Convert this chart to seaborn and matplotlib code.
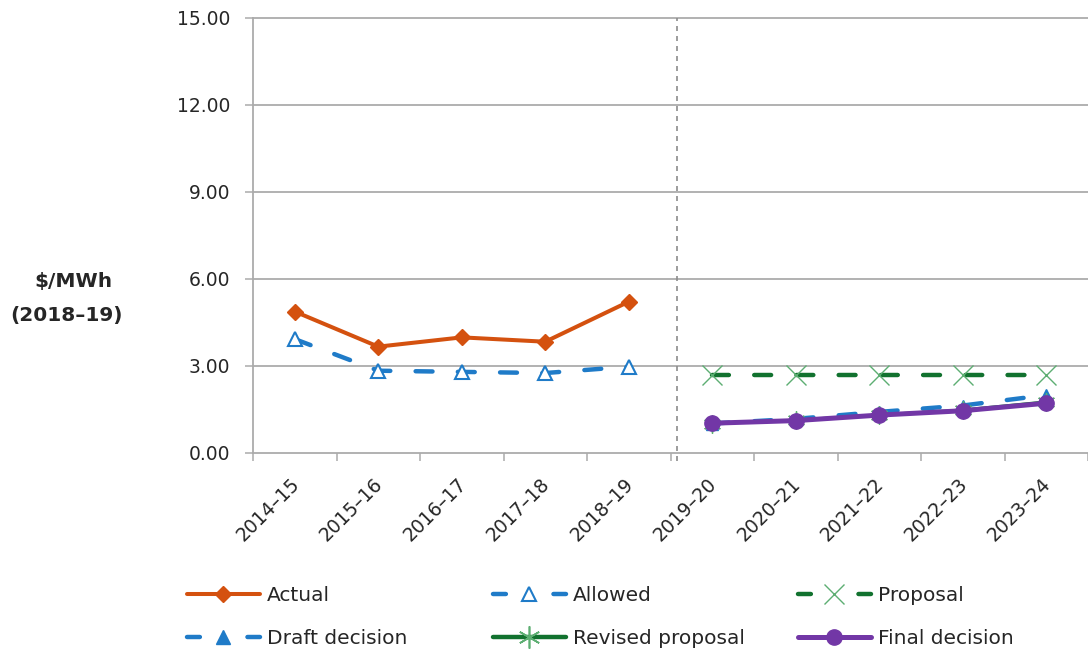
import numpy as np
import pandas as pd
import seaborn as sns
import matplotlib
matplotlib.use("Agg")
import matplotlib.pyplot as plt
from matplotlib.lines import Line2D
from matplotlib.transforms import ScaledTranslation

# ---------------- data ----------------
years = ["2014–15", "2015–16", "2016–17", "2017–18", "2018–19",
         "2019–20", "2020–21", "2021–22", "2022–23", "2023–24"]
actual = [4.86, 3.65, 3.97, 3.82, 5.20]          # 2014–15 .. 2018–19
allowed = [3.91, 2.82, 2.78, 2.74, 2.96]         # 2014–15 .. 2018–19
proposal = [2.67, 2.67, 2.67, 2.67, 2.67]        # 2019–20 .. 2023–24
draft = [1.00, 1.16, 1.40, 1.62, 1.98]           # 2019–20 .. 2023–24
revised = [1.00, 1.12, 1.30, 1.47, 1.75]         # 2019–20 .. 2023–24
final = [1.01, 1.10, 1.29, 1.44, 1.70]           # 2019–20 .. 2023–24
yticks = [0, 3, 6, 9, 12, 15]
ytick_labels = ["0.00", "3.00", "6.00", "9.00", "12.00", "15.00"]
series_names = ["Actual", "Allowed", "Proposal", "Draft decision", "Revised proposal", "Final decision"]

# ---------------- style ----------------
sns.set_theme(style="white")
plt.rcParams['font.family'] = ['DejaVu Sans']
TXT = "#262626"
GRID = "#ABABAB"
ORANGE = "#D4510F"
BLUE = "#1F7BC8"
DGREEN = "#12722F"
LGREEN = "#5DAE72"
PURPLE = "#7237A6"

W, H = 1088, 652
fig = plt.figure(figsize=(W / 100, H / 100), dpi=100)
top_px, bot_px, left_px = 17.5, 452.5, 253
ax = fig.add_axes([left_px / W, 1 - bot_px / H, (W - left_px) / W, (bot_px - top_px) / H])

pos = np.arange(len(years))
hist_x = pos[:5]
fore_x = pos[5:]

dash_pat = (0, (3.8, 5.7))


def draw(xv, yv, color, lw, ls, marker, ms, mfc, mec, mew, z):
    df = pd.DataFrame({"x": xv, "y": yv})
    sns.lineplot(data=df, x="x", y="y", ax=ax, color=color, linewidth=lw, linestyle=ls,
                 marker=marker, markersize=ms, markerfacecolor=mfc, markeredgecolor=mec,
                 markeredgewidth=mew, dash_capstyle='round', solid_capstyle='round',
                 zorder=z, sort=False, estimator=None, legend=False)


draw(hist_x, actual, ORANGE, 2.9, '-', 'D', 8.3, ORANGE, ORANGE, 1.0, 5)
draw(hist_x, allowed, BLUE, 3.2, dash_pat, '^', 9.5, 'white', BLUE, 1.5, 4)
draw(fore_x, proposal, DGREEN, 3.2, dash_pat, 'x', 14, LGREEN, LGREEN, 1.0, 4)
draw(fore_x, draft, BLUE, 3.2, dash_pat, '^', 9, BLUE, BLUE, 1.0, 4)
draw(fore_x, revised, DGREEN, 2.0, '-', (6, 2, 0), 13, DGREEN, LGREEN, 1.0, 5)
draw(fore_x, final, PURPLE, 3.6, '-', 'o', 11, PURPLE, PURPLE, 1.0, 6)

# vertical separator
ax.plot([4.58, 4.58], [-0.3, 15], color="#8C8C8C", lw=1.2, linestyle=(0, (3, 3)),
        clip_on=False, zorder=3)

# ---------------- axes ----------------
ax.set_xlim(-0.5, (W - 295) / 84.0)
ax.set_ylim(0, 15)
ax.set_xlabel("")
ax.set_ylabel("")
ax.set_yticks(yticks)
ax.set_yticklabels(ytick_labels)
ax.set_xticks(pos)
ax.set_xticklabels(years, rotation=45, ha='right', rotation_mode='anchor')
ax.set_xticks(np.arange(-0.5, 10, 1), minor=True)

ax.grid(False)
for y in yticks[1:-1]:
    ax.axhline(y, color=GRID, lw=1.3, zorder=1)
for s in ["left", "bottom", "top"]:
    ax.spines[s].set_visible(True)
    ax.spines[s].set_color(GRID)
    ax.spines[s].set_linewidth(1.3)
ax.spines["right"].set_visible(False)

ax.tick_params(axis='y', which='major', length=5.8, width=1.1, color=GRID, pad=10.5,
               labelsize=13.5, labelcolor=TXT, direction='out', left=True)
ax.tick_params(axis='x', which='major', length=0, pad=16, labelsize=13.5, labelcolor=TXT, bottom=True)
ax.tick_params(axis='x', which='minor', length=5.8, width=1.1, color=GRID, direction='out', bottom=True)
for lbl in ax.get_xticklabels():
    lbl.set_transform(lbl.get_transform() + ScaledTranslation(-5 / 100, 0, fig.dpi_scale_trans))

# y label
fig.text(73 / W, 1 - 282 / H, "\\$/MWh", ha='center', va='center', fontsize=14.5,
         fontweight='bold', color=TXT)
fig.text(66 / W, 1 - 315 / H, "(2018–19)", ha='center', va='center', fontsize=14.5,
         fontweight='bold', color=TXT)

# ---------------- legend ----------------
leg_dash = (0, (2.9, 10.7))
h_actual = Line2D([], [], color=ORANGE, lw=2.9, marker='D', ms=8.3, mfc=ORANGE, mec=ORANGE, mew=1.0,
                  solid_capstyle='round')
h_allowed = Line2D([], [], color=BLUE, lw=3.2, ls=leg_dash, marker='^', ms=9.5, mfc='white', mec=BLUE,
                   mew=1.5, dash_capstyle='round')
h_proposal = Line2D([], [], color=DGREEN, lw=3.2, ls=leg_dash, marker='x', ms=14, mec=LGREEN, mew=1.0,
                    dash_capstyle='round')
h_draft = Line2D([], [], color=BLUE, lw=3.2, ls=leg_dash, marker='^', ms=9.5, mfc=BLUE, mec=BLUE, mew=1.0,
                 dash_capstyle='round')
h_revised = Line2D([], [], color=DGREEN, lw=3.2, marker=(6, 2, 0), ms=16, mec=LGREEN, mew=1.2,
                   solid_capstyle='round')
h_final = Line2D([], [], color=PURPLE, lw=3.6, marker='o', ms=11, mfc=PURPLE, mec=PURPLE, mew=1.0,
                 solid_capstyle='round')

cols = [
    (187, [h_actual, h_draft], [series_names[0], series_names[3]]),
    (493, [h_allowed, h_revised], [series_names[1], series_names[4]]),
    (798, [h_proposal, h_final], [series_names[2], series_names[5]]),
]
for xpx, hs, ls_ in cols:
    lg = fig.legend(hs, ls_, loc='upper left', bbox_to_anchor=(xpx / W, 1 - 586 / H),
                    bbox_transform=fig.transFigure, frameon=False, fontsize=14.5,
                    handlelength=3.6, handletextpad=0.35, labelspacing=1.2,
                    borderpad=0, borderaxespad=0, labelcolor=TXT)

fig.savefig("out.png", dpi=100)
